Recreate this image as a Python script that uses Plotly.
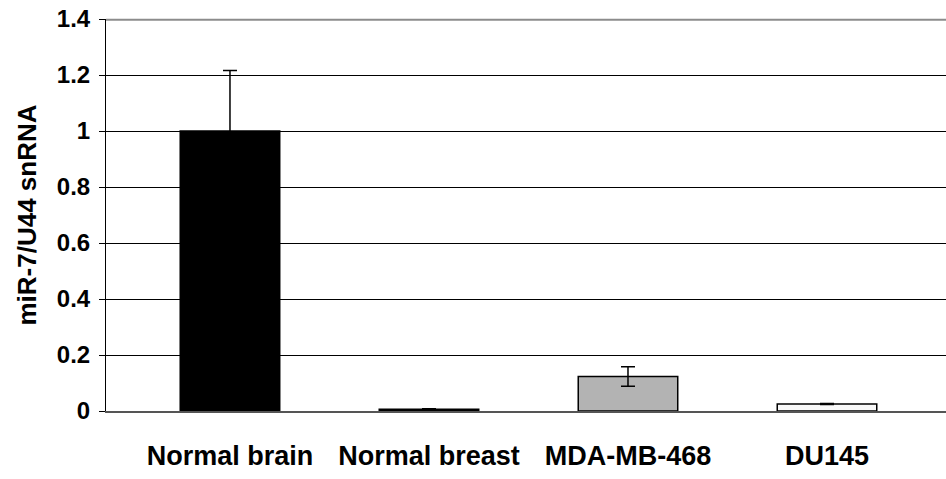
import plotly.graph_objects as go

categories = ["Normal brain", "Normal breast", "MDA-MB-468", "DU145"]
values = [1.0, 0.006, 0.123, 0.025]
errors = [0.216, 0.002, 0.035, 0.002]
bar_colors = ["#000000", "#000000", "#b3b3b3", "#f8f8f8"]
y_ticks = [0, 0.2, 0.4, 0.6, 0.8, 1.0, 1.2, 1.4]
y_tick_labels = ["0", "0.2", "0.4", "0.6", "0.8", "1", "1.2", "1.4"]

FONT = "Liberation Sans, Arial, sans-serif"

fig = go.Figure()
fig.add_trace(go.Bar(
    x=list(range(len(categories))),
    y=values,
    width=0.5,
    marker=dict(color=bar_colors, line=dict(color="#000000", width=1.5)),
    error_y=dict(type="data", array=errors, visible=True,
                 color="#000000", thickness=1.5, width=7),
))

fig.update_layout(
    width=946, height=479,
    margin=dict(l=106, r=0, t=19, b=68),
    paper_bgcolor="white", plot_bgcolor="white",
    showlegend=False,
    font=dict(family=FONT, color="#000000"),
    bargap=0.5,
)
fig.update_xaxes(
    range=[-0.623, 3.598],
    tickmode="array",
    tickvals=list(range(len(categories))),
    ticktext=categories,
    tickfont=dict(size=27, family=FONT, weight="bold"),
    ticks="", showgrid=False, zeroline=False,
    showline=True, linecolor="#555555", linewidth=1.5,
    ticklabelstandoff=20,
    automargin=False,
)
fig.update_yaxes(
    range=[0, 1.4],
    tickmode="array",
    tickvals=y_ticks,
    ticktext=y_tick_labels,
    tickfont=dict(size=24, family=FONT, weight="bold"),
    ticks="outside", ticklen=6, tickcolor="#000000", tickwidth=1,
    showgrid=True, gridcolor="#000000", gridwidth=1,
    zeroline=False,
    showline=True, linecolor="#000000", linewidth=1,
    title=dict(text="miR-7/U44 snRNA", font=dict(size=26, family=FONT, weight="bold"), standoff=12),
    ticklabelstandoff=4,
    ticklabeloverflow="allow",
    automargin=False,
)
fig.add_shape(type="line", xref="paper", yref="paper", x0=0, x1=1, y0=0.998, y1=0.998,
              line=dict(color="#8c8c8c", width=2), layer="above")

fig.write_html("out.html", config={"displayModeBar": False},
               post_script="document.body.style.margin='0';")
